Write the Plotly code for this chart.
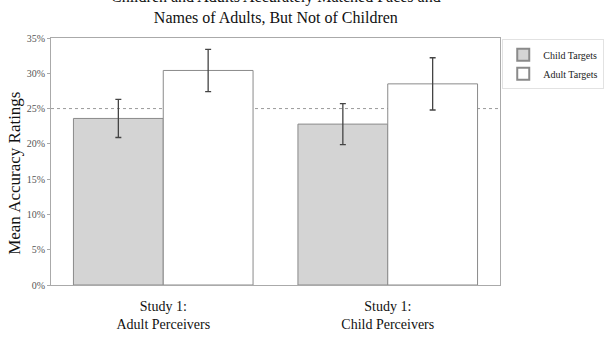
import plotly.graph_objects as go

# Data
groups = ["Study 1:<br>Adult Perceivers", "Study 1:<br>Child Perceivers"]
child_targets = [23.6, 22.8]
child_err = [2.7, 2.9]
adult_targets = [30.4, 28.5]
adult_err = [3.0, 3.7]
y_ticks = [0, 5, 10, 15, 20, 25, 30, 35]
chance_level = 25

serif = "Liberation Serif, Times New Roman, serif"

fig = go.Figure()
fig.add_trace(go.Bar(
    name="Child Targets", x=groups, y=child_targets,
    marker=dict(color="#d4d4d4", line=dict(color="#8a8a8a", width=1)),
    error_y=dict(type="data", array=child_err, color="#444444", thickness=1.3, width=3),
))
fig.add_trace(go.Bar(
    name="Adult Targets", x=groups, y=adult_targets,
    marker=dict(color="#ffffff", line=dict(color="#8a8a8a", width=1)),
    error_y=dict(type="data", array=adult_err, color="#444444", thickness=1.3, width=3),
))

# dotted chance line
fig.add_shape(type="line", xref="paper", x0=0, x1=1, yref="y", y0=chance_level, y1=chance_level,
              line=dict(color="#9a9a9a", width=1, dash="dot"), layer="below")

fig.add_annotation(
    text="Children and Adults Accurately Matched Faces and<br>Names of Adults, But Not of Children",
    xref="paper", yref="paper", x=0.5, y=1, xanchor="center", yanchor="bottom", yshift=10,
    showarrow=False, font=dict(family=serif, size=16, color="#111111"),
)

# y-axis title
fig.add_annotation(
    text="Mean Accuracy Ratings", textangle=-90,
    xref="paper", yref="paper", x=0, y=0.45, xanchor="center", yanchor="middle", xshift=-36,
    showarrow=False, font=dict(family=serif, size=17, color="#111111"),
)

fig.update_layout(
    width=605, height=337,
    margin=dict(l=51, r=105, t=38, b=52, autoexpand=False),
    paper_bgcolor="white", plot_bgcolor="white",
    barmode="group", bargap=0.2, bargroupgap=0,
    showlegend=True,
    legend=dict(x=1.005, y=0.995, xanchor="left", yanchor="top",
                bordercolor="#e2e2e2", borderwidth=1,
                font=dict(family=serif, size=10, color="#222222"),
                tracegroupgap=0, itemsizing="constant", itemwidth=30),
    font=dict(family=serif),
)
fig.update_xaxes(
    showline=True, linecolor="#aaaaaa", linewidth=1, mirror=True,
    ticks="", tickfont=dict(family=serif, size=14, color="#111111"),
    ticklabelstandoff=8,
    showgrid=False,
)
fig.update_yaxes(
    range=[0, 35], tickvals=y_ticks, ticktext=[f"{v}%" for v in y_ticks],
    showline=True, linecolor="#aaaaaa", linewidth=1, mirror=True,
    ticks="outside", ticklen=3, tickcolor="#aaaaaa",
    tickfont=dict(family=serif, size=10, color="#555555"),
    showgrid=False, zeroline=False,
)

fig.write_html("out.html")
